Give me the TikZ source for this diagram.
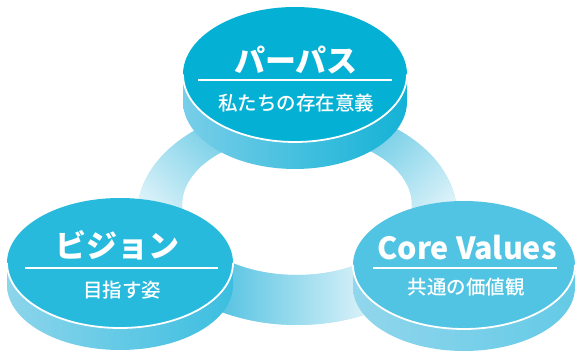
\documentclass[tikz,border=0pt]{standalone}
\usepackage{fontspec}
\newfontfamily\jp{Noto Sans CJK JP Medium}
\newfontfamily\jpb{Noto Sans CJK JP}
\definecolor{facetop}{RGB}{4,176,212}
\definecolor{faceleft}{RGB}{40,186,221}
\definecolor{faceright}{RGB}{82,196,227}
\definecolor{ringdark}{RGB}{82,194,225}
\definecolor{ringlight}{RGB}{225,244,250}
\definecolor{ringmid}{RGB}{170,223,239}
\tikzset{
  title/.style={text=white, font=\jpb\bfseries\fontsize{31}{31}\selectfont, inner sep=0pt},
  sub/.style={text=white, font=\jp\fontsize{19.5}{19.5}\selectfont, inner sep=0pt},
  rule/.style={draw=white, line width=1.1pt},
  rim/.style={draw=white, line width=1.8pt}
}
\begin{document}
\begin{tikzpicture}[x=1pt,y=1pt]
\useasboundingbox (0,0) rectangle (579,356);
% ring
\def\ringpath{(297,141) ellipse[x radius=160, y radius=110] (297,151) ellipse[x radius=115, y radius=70]}
\fill[ringmid, even odd rule] \ringpath;
\begin{scope}[even odd rule]
  \clip \ringpath;
  \shade[top color=ringdark, bottom color=ringlight, shading angle=-45] (125,125) rectangle (265,265);
  \shade[top color=ringdark, bottom color=ringlight, shading angle=45] (330,125) rectangle (470,265);
  \shade[left color=ringdark, right color=ringlight] (215,25) rectangle (375,105);
\end{scope}
% top disc
\shade[left color={rgb,255:red,120;green,206;blue,232}, right color={rgb,255:red,20;green,178;blue,214}]
  (183,281.5) arc[start angle=180, end angle=360, x radius=112, y radius=67.5] -- ++(0,-27)
  arc[start angle=360, end angle=180, x radius=112, y radius=67.5] -- cycle;
\fill[facetop] (295,281.5) ellipse[x radius=112, y radius=67.5];
\draw[rim] (183,281.5) arc[start angle=180, end angle=360, x radius=112, y radius=67.5];
% left disc
\shade[left color={rgb,255:red,140;green,213;blue,235}, right color={rgb,255:red,60;green,190;blue,224}]
  (7,93) arc[start angle=180, end angle=360, x radius=113, y radius=65] -- ++(0,-22)
  arc[start angle=360, end angle=180, x radius=113, y radius=65] -- cycle;
\fill[faceleft] (120,93) ellipse[x radius=113, y radius=65];
\draw[rim] (7,93) arc[start angle=180, end angle=360, x radius=113, y radius=65];
% right disc
\shade[left color={rgb,255:red,145;green,214;blue,236}, right color={rgb,255:red,100;green,202;blue,230}]
  (353,91) arc[start angle=180, end angle=360, x radius=111, y radius=64] -- ++(0,-22)
  arc[start angle=360, end angle=180, x radius=111, y radius=64] -- cycle;
\fill[faceright] (464,91) ellipse[x radius=111, y radius=64];
\draw[rim] (353,91) arc[start angle=180, end angle=360, x radius=111, y radius=64];
% texts top
\node[title] (pt) at (296,296) {パーパス};
\coordinate (pl1) at (198,276); \coordinate (pl2) at (392,276);
\draw[rule] (pl1) -- (pl2);
\node[sub] (ps) at (296,253) {私たちの存在意義};
% texts left
\node[title] (vt) at (118,111) {ビジョン};
\coordinate (vl1) at (25,88); \coordinate (vl2) at (218,88);
\draw[rule] (vl1) -- (vl2);
\node[sub] (vs) at (122,66) {目指す姿};
% texts right
\node[title, font=\jpb\bfseries\fontsize{30.5}{30.5}\selectfont] (ct) at (467,108) {Core Values};
\coordinate (cl1) at (373,88); \coordinate (cl2) at (557,88);
\draw[rule] (cl1) -- (cl2);
\node[sub] (cs) at (466,69) {共通の価値観};
\end{tikzpicture}
\end{document}
